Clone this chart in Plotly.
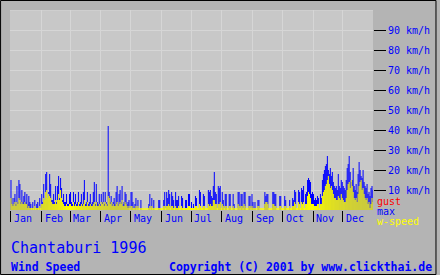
import plotly.graph_objects as go

# ---- data (km/h), daily values for 1996 ----
months = ["Jan", "Feb", "Mar", "Apr", "May", "Jun", "Jul", "Aug", "Sep", "Oct", "Nov", "Dec"]
month_days = [31, 29, 31, 30, 31, 30, 31, 31, 30, 31, 30, 31]

max_jan = [15, 6, 3, 6, 8, 3, 12, 4, 15, 13, 4, 10, 4, 7, 9, 4, 8, 3, 7, 4, 3, 0, 4, 0, 5, 0, 3, 4, 0, 6, 0]
max_feb = [8, 4, 13, 5, 18, 19, 6, 9, 18, 13, 5, 5, 8, 4, 12, 4, 12, 17, 6, 16, 11, 5, 8, 4, 4, 8, 3, 3, 8]
max_mar = [9, 4, 3, 9, 4, 8, 3, 4, 9, 3, 4, 8, 3, 9, 15, 3, 4, 9, 3, 4, 8, 3, 4, 9, 14, 3, 13, 4, 3, 8, 3]
max_apr = [8, 4, 9, 3, 9, 4, 3, 42, 9, 4, 7, 3, 4, 6, 3, 9, 12, 3, 8, 10, 4, 12, 3, 4, 9, 8, 3, 4, 5, 0]
max_may = [9, 9, 4, 0, 3, 6, 0, 5, 0, 0, 5, 0, 0, 0, 0, 0, 0, 0, 3, 8, 0, 6, 0, 5, 0, 0, 0, 0, 5, 5, 0]
max_jun = [0, 0, 5, 9, 0, 9, 6, 10, 8, 0, 9, 7, 5, 0, 9, 5, 5, 7, 0, 0, 7, 6, 0, 0, 5, 5, 0, 8, 8, 0]
max_jul = [4, 0, 3, 0, 7, 6, 0, 0, 10, 9, 0, 0, 8, 7, 0, 0, 0, 10, 9, 10, 7, 6, 12, 19, 9, 8, 0, 12, 11, 12, 0]
max_aug = [9, 5, 0, 8, 8, 0, 0, 8, 8, 0, 0, 8, 3, 0, 0, 0, 9, 9, 0, 8, 8, 0, 9, 9, 0, 0, 0, 7, 7, 0, 8]
max_sep = [4, 0, 4, 0, 0, 5, 5, 0, 0, 0, 0, 0, 9, 7, 8, 8, 0, 0, 0, 0, 9, 9, 8, 8, 0, 0, 0, 7, 7, 0]
max_oct = [0, 0, 7, 5, 0, 0, 0, 5, 0, 0, 6, 5, 10, 9, 0, 0, 10, 9, 0, 11, 10, 12, 0, 8, 9, 15, 16, 15, 14, 8, 9]
max_nov = [8, 5, 6, 5, 7, 6, 0, 8, 6, 15, 18, 20, 22, 23, 27, 20, 18, 21, 17, 19, 14, 12, 11, 12, 10, 18, 12, 11, 15, 14]
max_dec = [12, 11, 10, 15, 21, 23, 27, 19, 14, 15, 21, 12, 10, 13, 9, 18, 24, 20, 17, 16, 20, 14, 12, 11, 13, 8, 9, 7, 11, 12, 10]

ws_jan = [6, 3, 2, 3, 4, 2, 4, 3, 6, 5, 3, 4, 3, 3, 4, 3, 3, 1, 2, 1, 1, 1, 1, 1, 2, 1, 1, 1, 1, 2, 1]
ws_feb = [3, 3, 6, 5, 9, 10, 6, 8, 7, 6, 4, 3, 3, 3, 5, 3, 5, 8, 5, 10, 6, 4, 3, 2, 2, 3, 2, 2, 3]
ws_mar = [3, 2, 2, 4, 2, 3, 2, 2, 4, 2, 2, 3, 2, 3, 5, 2, 2, 4, 2, 2, 3, 2, 2, 3, 4, 2, 4, 2, 2, 3, 2]
ws_apr = [4, 3, 4, 2, 4, 3, 2, 7, 6, 3, 4, 2, 3, 2, 2, 3, 4, 2, 3, 4, 3, 5, 2, 2, 4, 3, 2, 1, 2, 1]
ws_may = [2, 2, 1, 1, 1, 2, 1, 2, 1, 1, 1, 1, 1, 1, 1, 1, 1, 1, 1, 2, 1, 2, 1, 1, 1, 1, 1, 1, 1, 1, 1]
ws_jun = [1, 1, 2, 2, 1, 2, 2, 3, 2, 1, 2, 2, 1, 1, 2, 1, 1, 2, 1, 1, 2, 1, 1, 1, 1, 1, 1, 2, 2, 1]
ws_jul = [1, 1, 1, 1, 2, 2, 1, 1, 3, 2, 1, 1, 2, 2, 1, 1, 1, 3, 2, 3, 2, 2, 5, 5, 3, 3, 1, 3, 3, 4, 1]
ws_aug = [3, 2, 1, 2, 2, 1, 1, 2, 2, 1, 1, 2, 1, 1, 1, 1, 3, 2, 1, 2, 2, 1, 3, 2, 1, 1, 1, 2, 2, 1, 2]
ws_sep = [1, 1, 1, 1, 1, 2, 2, 1, 1, 1, 1, 1, 3, 4, 4, 3, 1, 1, 1, 1, 3, 3, 2, 2, 1, 1, 1, 2, 2, 1]
ws_oct = [1, 1, 2, 2, 1, 1, 1, 2, 1, 1, 2, 2, 4, 3, 1, 1, 4, 3, 1, 4, 3, 4, 1, 3, 3, 7, 9, 8, 6, 3, 3]
ws_nov = [3, 2, 2, 2, 3, 3, 1, 3, 3, 7, 9, 10, 12, 13, 15, 17, 13, 11, 12, 10, 8, 6, 6, 5, 5, 7, 6, 5, 8, 6]
ws_dec = [5, 4, 4, 6, 10, 13, 14, 11, 15, 12, 9, 6, 5, 6, 4, 8, 12, 14, 15, 10, 11, 8, 6, 5, 6, 3, 4, 1, 3, 6, 4]

y_ticks = [10, 20, 30, 40, 50, 60, 70, 80, 90]
y_labels = [f"{v} km/h" for v in y_ticks]

max_speed = (max_jan + max_feb + max_mar + max_apr + max_may + max_jun +
             max_jul + max_aug + max_sep + max_oct + max_nov + max_dec)
w_speed = (ws_jan + ws_feb + ws_mar + ws_apr + ws_may + ws_jun +
           ws_jul + ws_aug + ws_sep + ws_oct + ws_nov + ws_dec)
days = list(range(1, len(max_speed) + 1))

month_starts = []
acc = 0
for n in month_days:
    month_starts.append(acc + 0.5)
    acc += n

BLUE = "#0000ff"
FONT = "DejaVu Sans Mono"


def spikes(values):
    """Vertical 1-day-wide bars as line segments from 0 to the value."""
    xs, ys = [], []
    for d, v in zip(days, values):
        if v > 0:
            xs += [d, d, None]
            ys += [0, v, None]
    return xs, ys


fig = go.Figure()
bx, by = spikes(max_speed)
fig.add_trace(go.Scatter(x=bx, y=by, mode="lines", line=dict(color=BLUE, width=1),
                         name="max", hoverinfo="skip", connectgaps=False))
wx, wy = spikes(w_speed)
fig.add_trace(go.Scatter(x=wx, y=wy, mode="lines", line=dict(color="#ffff00", width=1),
                         name="w-speed", hoverinfo="skip", connectgaps=False))

PW, PH = 366, 200   # one pixel per day, two pixels per km/h
L, T = 10, 10


def px(xp):
    return (xp - L) / PW


def py(yp):
    return (T + PH - yp) / PH


annotations = []
for m, s in zip(months, month_starts):
    annotations.append(dict(x=s + 1.5, y=py(218.5), xref="x", yref="paper", text=m,
                            showarrow=False, xanchor="left", yanchor="middle",
                            font=dict(family=FONT, size=10, color=BLUE)))

for txt, col, yp in [("gust", "#ff0000", 201.5), ("max", BLUE, 211.5), ("w-speed", "#ffff00", 221.5)]:
    annotations.append(dict(x=px(378.5), y=py(yp), xref="paper", yref="paper", text=txt,
                            showarrow=False, xanchor="left", yanchor="middle",
                            font=dict(family=FONT, size=10, color=col)))

annotations.append(dict(x=px(9), y=py(248), xref="paper", yref="paper", text="Chantaburi 1996",
                        showarrow=False, xanchor="left", yanchor="middle",
                        font=dict(family=FONT, size=15, color=BLUE)))
annotations.append(dict(x=px(9), y=py(267), xref="paper", yref="paper", text="<b>Wind Speed</b>",
                        showarrow=False, xanchor="left", yanchor="middle",
                        font=dict(family=FONT, size=11.5, color=BLUE)))
annotations.append(dict(x=px(437), y=py(267), xref="paper", yref="paper",
                        text="<b>Copyright (C) 2001 by www.clickthai.de</b>",
                        showarrow=False, xanchor="right", yanchor="middle",
                        font=dict(family=FONT, size=11.5, color=BLUE)))

shapes = [
    dict(type="line", xref="paper", yref="y", x0=0, x1=1, y0=100, y1=100,
         line=dict(color="#d6d6d6", width=1), layer="below"),
    dict(type="rect", xref="paper", yref="paper", x0=px(0.5), x1=px(439.5), y0=py(274.5), y1=py(0.5),
         line=dict(color="#000000", width=1)),
]

fig.update_layout(
    width=440, height=275,
    margin=dict(l=L, r=440 - L - PW, t=T, b=275 - T - PH, pad=0),
    paper_bgcolor="#b4b4b4", plot_bgcolor="#c8c8c8",
    showlegend=False,
    annotations=annotations, shapes=shapes,
    # range shifted half a day so each day's 1px line sits on a pixel centre
    xaxis=dict(range=[0, 366], tickvals=month_starts, showticklabels=False,
               ticks="outside", ticklen=11, tickwidth=1, tickcolor="#000000",
               showgrid=True, gridcolor="#d6d6d6", gridwidth=1, zeroline=False,
               showline=False, fixedrange=True),
    yaxis=dict(range=[0, 100], side="right", tickvals=y_ticks, ticktext=y_labels,
               ticks="outside", ticklen=12, tickwidth=1, tickcolor="#000000",
               tickfont=dict(family=FONT, size=10, color=BLUE),
               showgrid=True, gridcolor="#d6d6d6", gridwidth=1, zeroline=False,
               showline=False, fixedrange=True),
)

fig.write_html("out.html", config={"displayModeBar": False})
